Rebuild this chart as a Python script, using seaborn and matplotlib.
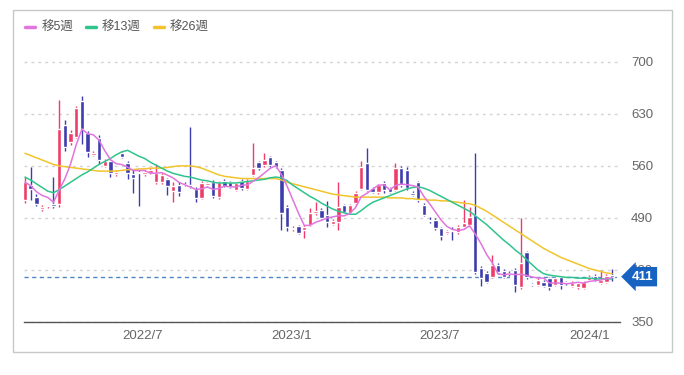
import numpy as np
import pandas as pd
import matplotlib
matplotlib.use("Agg")
import matplotlib.pyplot as plt
import seaborn as sns
from matplotlib.lines import Line2D
from matplotlib.patches import Rectangle
from matplotlib.transforms import blended_transform_factory

# weekly candles (open / high / low / close)
opens = [514, 534, 518, 502, 506, 509, 509, 615, 592, 599, 647, 604, 575, 598, 560, 566, 549, 577, 564, 549,
         552, 549, 551, 538, 538, 542, 526, 534, 536, 535, 529, 517, 535, 538, 518, 540, 538, 528, 540, 529,
         548, 565, 561, 572, 565, 555, 505, 475, 479, 474, 481, 497, 501, 494, 482, 485, 507, 497, 510, 529,
         564, 530, 525, 537, 530, 528, 557, 555, 524, 538, 507, 487, 487, 476, 470, 474, 471, 478, 481, 494,
         423, 416, 411, 427, 419, 416, 420, 397, 444, 401, 400, 404, 409, 400, 410, 403, 399, 397, 396, 407,
         412, 403, 404, 413]
highs = [545, 559, 522, 507, 508, 545, 649, 622, 608, 640, 654, 607, 580, 601, 569, 568, 555, 579, 567, 555,
         555, 554, 557, 562, 550, 544, 538, 538, 538, 612, 531, 540, 539, 541, 540, 542, 540, 539, 542, 542,
         591, 567, 577, 574, 567, 557, 507, 479, 481, 480, 503, 512, 503, 513, 488, 538, 509, 509, 526, 566,
         584, 532, 536, 540, 532, 564, 560, 558, 526, 540, 510, 491, 490, 478, 474, 478, 480, 514, 505, 578,
         425, 418, 440, 429, 421, 418, 422, 490, 446, 403, 409, 406, 411, 411, 412, 405, 405, 404, 405, 413,
         414, 420, 415, 421]
lows = [510, 514, 506, 500, 504, 504, 505, 580, 588, 597, 590, 572, 573, 562, 558, 545, 547, 570, 543, 524,
        506, 547, 549, 536, 536, 521, 512, 520, 533, 530, 512, 515, 533, 517, 516, 531, 530, 526, 528, 527,
        546, 555, 559, 558, 557, 474, 472, 473, 468, 463, 479, 494, 488, 478, 480, 474, 496, 495, 508, 527,
        526, 523, 522, 524, 523, 526, 532, 527, 519, 512, 492, 483, 474, 460, 468, 460, 469, 476, 479, 415,
        399, 402, 409, 414, 409, 412, 390, 395, 408, 398, 398, 397, 393, 398, 395, 400, 397, 395, 394, 405,
        405, 401, 402, 405]
closes = [538, 529, 509, 505, 507, 506, 610, 586, 604, 638, 610, 579, 578, 568, 567, 550, 552, 572, 551, 544,
          550, 552, 554, 551, 548, 533, 533, 525, 535, 532, 517, 537, 537, 519, 538, 533, 532, 537, 530, 540,
          557, 557, 568, 561, 559, 497, 478, 477, 470, 478, 497, 499, 490, 485, 486, 505, 498, 507, 524, 559,
          528, 525, 534, 527, 525, 557, 535, 530, 521, 514, 494, 486, 476, 466, 472, 473, 478, 483, 491, 417,
          409, 404, 427, 417, 411, 414, 400, 429, 410, 400, 407, 399, 397, 409, 400, 402, 403, 403, 404, 411,
          407, 407, 412, 411]

# 13-week and 26-week moving averages
ma13 = [545, 541, 536, 531, 526, 524, 528, 533, 538, 543, 548, 552, 557, 562, 566, 570, 575, 579, 581, 577,
        573, 570, 565, 561, 557, 553, 550, 548, 546, 545, 543, 541, 540, 538, 537, 537, 537, 537, 538, 539,
        540, 541, 542, 544, 545, 544, 540, 534, 529, 524, 519, 515, 510, 506, 502, 499, 497, 495, 495, 500,
        506, 511, 514, 517, 520, 523, 526, 529, 531, 532, 530, 527, 523, 519, 515, 511, 507, 503, 499, 493,
        487, 481, 474, 467, 460, 454, 447, 441, 434, 427, 420, 415, 413, 412, 411, 410, 410, 409, 409, 409,
        408, 408, 408, 408]
ma26 = [577, 574, 571, 568, 565, 562, 560, 559, 558, 557, 556, 555, 554, 553, 553, 553, 553, 554, 555, 555,
        556, 556, 557, 557, 557, 558, 559, 560, 560, 560, 559, 557, 554, 551, 548, 546, 545, 544, 543, 543,
        543, 543, 543, 543, 543, 541, 538, 536, 534, 532, 530, 528, 526, 524, 522, 521, 520, 519, 518, 518,
        518, 518, 518, 518, 517, 517, 517, 516, 516, 515, 515, 514, 514, 513, 513, 512, 511, 510, 509, 507,
        503, 499, 494, 489, 484, 479, 474, 469, 464, 459, 454, 449, 445, 441, 437, 434, 431, 428, 425, 422,
        420, 418, 416, 415]

last_price = 411
y_ticks = [350, 420, 490, 560, 630, 700]
x_tick_dates = ["2022-07-01", "2023-01-01", "2023-07-01", "2024-01-01"]
x_tick_labels = ["2022/7", "2023/1", "2023/7", "2024/1"]
legend_labels = ["移5週", "移13週", "移26週"]

dates = pd.date_range("2022-02-07", periods=len(closes), freq="W-MON")
df = pd.DataFrame({"date": dates, "open": opens, "high": highs, "low": lows, "close": closes,
                   "ma13": ma13, "ma26": ma26})
df["ma5"] = df["close"].rolling(5, min_periods=1).mean()

sns.set_style("white")
plt.rcParams["font.family"] = ["Liberation Sans", "Noto Sans CJK JP", "DejaVu Sans"]

UP, DOWN = "#ee3d68", "#3c3cae"
C5, C13, C26 = "#e075de", "#2fc48c", "#f2c42c"

fig = plt.figure(figsize=(6.84, 3.75), dpi=100)
ax = fig.add_axes([24 / 684, 1 - 322 / 375, 596 / 684, 275 / 375])

# candles
up = df["close"] >= df["open"]
colors = np.where(up, UP, DOWN)
body_lo = np.minimum(df["open"], df["close"])
body_h = np.maximum(np.abs(df["close"] - df["open"]), 1.3)
ax.vlines(df["date"], df["low"], df["high"], colors=colors, lw=1, zorder=2)
ax.bar(df["date"], body_h, bottom=body_lo, width=5.4, color=colors, zorder=2)

# moving averages
sns.lineplot(x=df["date"], y=df["ma26"], color=C26, lw=1.1, ax=ax, zorder=3)
sns.lineplot(x=df["date"], y=df["ma13"], color=C13, lw=1.1, ax=ax, zorder=3)
sns.lineplot(x=df["date"], y=df["ma5"], color=C5, lw=1.1, ax=ax, zorder=3)

# current price line and tag
ax.axhline(last_price, color="#4f86c6", lw=1, ls=(0, (3, 2.5)), zorder=1)
trans = blended_transform_factory(ax.transAxes, ax.transData)
ax.text(1.02, last_price, str(last_price), transform=trans, ha="left", va="center",
        color="white", fontsize=9.5, fontweight="bold", zorder=10, clip_on=False,
        bbox=dict(boxstyle="larrow,pad=0.28", fc="#1763c2", ec="none"))

ax.set_ylim(350, 720)
ax.set_xlim(dates[0] - pd.Timedelta(days=1.2), dates[0] + pd.Timedelta(days=104.4 * 7))
ax.set_yticks(y_ticks)
ax.yaxis.tick_right()
ax.set_xticks(pd.to_datetime(x_tick_dates))
ax.set_xticklabels(x_tick_labels)
ax.tick_params(axis="both", length=0, labelcolor="#666666", labelsize=9.5)
ax.tick_params(axis="y", pad=8)
ax.tick_params(axis="x", pad=6)
ax.set_xlabel("")
ax.set_ylabel("")
ax.grid(axis="y", color="#d2d2d2", lw=1, ls=(0, (2, 3)))
ax.grid(axis="x", visible=False)
for s in ["top", "left", "right"]:
    ax.spines[s].set_visible(False)
ax.spines["bottom"].set_color("#555555")
ax.spines["bottom"].set_linewidth(1)

handles = [Line2D([], [], color=c, lw=2.5) for c in (C5, C13, C26)]
fig.legend(handles, legend_labels, loc="center left", bbox_to_anchor=(14 / 684, 1 - 28 / 375),
           ncol=3, frameon=False, fontsize=9, handlelength=0.8, handletextpad=0.5,
           columnspacing=1.0, labelcolor="#555555")

fig.patches.append(Rectangle((13 / 684, 1 - 352 / 375), 659 / 684, 342 / 375, transform=fig.transFigure,
                             fill=False, ec="#c8c8c8", lw=1))

fig.savefig("out.png", dpi=100)
